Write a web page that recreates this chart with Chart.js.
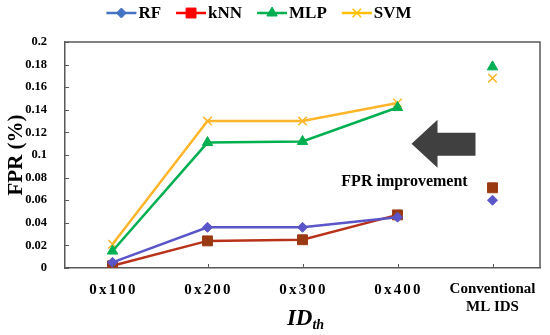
<!DOCTYPE html>
<html>
<head>
<meta charset="utf-8">
<script src="https://cdn.jsdelivr.net/npm/chart.js@4"></script>
<style>
  html, body { margin: 0; padding: 0; background: #fff; }
  #grafico { display: block; }
</style>
</head>
<body>
<canvas id="grafico" width="550" height="335"></canvas>
<script>
// Dados do gráfico
const categorias = ['0x100', '0x200', '0x300', '0x400', ['Conventional', 'ML IDS']];
const valoresRF  = [0.005, 0.036, 0.036, 0.045, 0.060];
const valoresKNN = [0.002, 0.024, 0.025, 0.047, 0.071];
const valoresMLP = [0.015, 0.111, 0.112, 0.142, 0.178];
const valoresSVM = [0.021, 0.130, 0.130, 0.146, 0.168];
const rotulosY = ['0', '0.02', '0.04', '0.06', '0.08', '0.1', '0.12', '0.14', '0.16', '0.18', '0.2'];

const fonte = "'Liberation Serif', 'Times New Roman', serif";
const corEixo = '#595959';

// Esconde o segmento até a coluna "Conventional" (ponto isolado)
const semLigacao = ctx => ctx.p1DataIndex === 4 ? 'rgba(0,0,0,0)' : undefined;

function serie(nome, dados, cor, corPonto, estilo, raio) {
  return {
    label: nome,
    data: dados,
    borderColor: cor,
    backgroundColor: corPonto,
    pointBorderColor: corPonto,
    pointStyle: estilo,
    pointRadius: raio,
    pointBorderWidth: estilo === 'crossRot' ? 1.5 : 1,
    borderWidth: 2.5,
    tension: 0,
    segment: { borderColor: semLigacao }
  };
}

// Plugin para moldura, ticks internos, rótulos do eixo x, legenda e seta
const extras = {
  id: 'extras',
  afterDraw(chart) {
    const ctx = chart.ctx;
    const area = chart.chartArea;
    const x = chart.scales.x;
    const y = chart.scales.y;
    ctx.save();

    // moldura superior e direita
    ctx.strokeStyle = corEixo;
    ctx.lineWidth = 1.5;
    ctx.beginPath();
    ctx.moveTo(area.left, area.top);
    ctx.lineTo(area.right, area.top);
    ctx.lineTo(area.right, area.bottom);
    ctx.stroke();

    // ticks internos
    ctx.lineWidth = 1;
    ctx.beginPath();
    for (let i = 0; i < categorias.length; i++) {
      const px = Math.round(x.getPixelForTick(i)) + 0.5;
      ctx.moveTo(px, area.bottom);
      ctx.lineTo(px, area.bottom - 4);
    }
    y.ticks.forEach((t, i) => {
      const py = Math.round(y.getPixelForTick(i)) + 0.5;
      ctx.moveTo(area.left, py);
      ctx.lineTo(area.left + 4, py);
    });
    ctx.stroke();

    // rótulos do eixo x
    ctx.fillStyle = '#000';
    ctx.textAlign = 'center';
    ctx.textBaseline = 'middle';
    categorias.forEach((c, i) => {
      const px = x.getPixelForTick(i);
      ctx.font = 'bold 15px ' + fonte;
      if (Array.isArray(c)) {
        ctx.letterSpacing = '0px';
        c.forEach((linha, j) => ctx.fillText(linha, px, area.bottom + 21 + j * 18));
      } else {
        ctx.letterSpacing = '2.2px';
        ctx.fillText(c, px + 1, area.bottom + 22);
      }
    });
    ctx.letterSpacing = '0px';

    // título do eixo x: ID com subscrito th
    const cx = (area.left + area.right) / 2;
    ctx.font = 'bold italic 23px ' + fonte;
    const wID = ctx.measureText('ID').width;
    ctx.font = 'bold italic 14px ' + fonte;
    const wTH = ctx.measureText('th').width;
    const inicio = cx - (wID + wTH) / 2 + 3;
    ctx.textAlign = 'left';
    ctx.textBaseline = 'alphabetic';
    ctx.font = 'bold italic 23px ' + fonte;
    ctx.fillText('ID', inicio, area.bottom + 57);
    ctx.font = 'bold italic 14px ' + fonte;
    ctx.fillText('th', inicio + wID, area.bottom + 61);

    // legenda
    ctx.font = 'bold 17px ' + fonte;
    const itens = chart.data.datasets.map(d => ({ d, w: 30 + 2 + ctx.measureText(d.label).width }));
    const espaco = 15;
    const total = itens.reduce((s, it) => s + it.w, 0) + espaco * (itens.length - 1);
    let lx = 259 - total / 2;
    const ly = 13;
    itens.forEach(({ d, w }) => {
      ctx.strokeStyle = d.legendColor;
      ctx.lineWidth = 2.5;
      ctx.beginPath();
      ctx.moveTo(lx, ly);
      ctx.lineTo(lx + 30, ly);
      ctx.stroke();
      ctx.fillStyle = d.legendColor;
      ctx.lineWidth = d.pointBorderWidth;
      Chart.helpers.drawPoint(ctx, {
        pointStyle: d.pointStyle,
        radius: d.pointRadius,
        borderWidth: d.pointBorderWidth,
        rotation: 0
      }, lx + 15, ly);
      ctx.fillStyle = '#000';
      ctx.textAlign = 'left';
      ctx.textBaseline = 'middle';
      ctx.fillText(d.label, lx + 32, ly + 1);
      lx += w + espaco;
    });

    // seta "FPR improvement"
    const ax = x.getPixelForTick(3);
    const ay = y.getPixelForValue(0.11);
    ctx.fillStyle = '#404040';
    ctx.beginPath();
    ctx.moveTo(ax + 14, ay);
    ctx.lineTo(ax + 40, ay - 24);
    ctx.lineTo(ax + 40, ay - 11);
    ctx.lineTo(ax + 78, ay - 11);
    ctx.lineTo(ax + 78, ay + 12);
    ctx.lineTo(ax + 40, ay + 12);
    ctx.lineTo(ax + 40, ay + 24);
    ctx.closePath();
    ctx.fill();

    ctx.fillStyle = '#000';
    ctx.font = 'bold 16px ' + fonte;
    ctx.textAlign = 'center';
    ctx.textBaseline = 'middle';
    ctx.fillText('FPR improvement', ax + 7, y.getPixelForValue(0.0765));

    ctx.restore();
  }
};

const conjuntos = [
  serie('RF', valoresRF, '#5a55c8', '#5a55c8', 'rectRot', 5),
  serie('kNN', valoresKNN, '#b8321a', '#9a3a12', 'rect', 7),
  serie('MLP', valoresMLP, '#00b050', '#00b050', 'triangle', 6),
  serie('SVM', valoresSVM, '#ffb52a', '#ffb52a', 'crossRot', 6)
];
conjuntos[0].legendColor = '#4472c4';
conjuntos[1].legendColor = '#ff0000';
conjuntos[2].legendColor = '#00b050';
conjuntos[3].legendColor = '#ffc000';

new Chart(document.getElementById('grafico').getContext('2d'), {
  type: 'line',
  data: { labels: categorias, datasets: conjuntos },
  options: {
    responsive: false,
    animation: false,
    layout: { padding: { top: 42, right: 10, left: 0, bottom: 0 } },
    plugins: {
      legend: { display: false },
      tooltip: { enabled: false }
    },
    scales: {
      x: {
        offset: true,
        grid: { display: false },
        border: { display: true, color: corEixo, width: 1.5 },
        ticks: { color: 'rgba(0,0,0,0)', font: { family: fonte, size: 15, weight: 'bold' } },
        afterFit: s => { s.height = 67; }
      },
      y: {
        min: 0,
        max: 0.2,
        grid: { display: false },
        border: { display: true, color: corEixo, width: 1.5 },
        ticks: {
          stepSize: 0.02,
          padding: 10,
          color: '#000',
          font: { family: fonte, size: 12.5, weight: 'bold' },
          callback: (v, i) => rotulosY[i]
        },
        title: {
          display: true,
          text: 'FPR (%)',
          color: '#000',
          padding: { top: 4, bottom: 0 },
          font: { family: fonte, size: 21, weight: 'bold' }
        },
        afterFit: s => { s.width = 65; }
      }
    }
  },
  plugins: [extras]
});
</script>
</body>
</html>
